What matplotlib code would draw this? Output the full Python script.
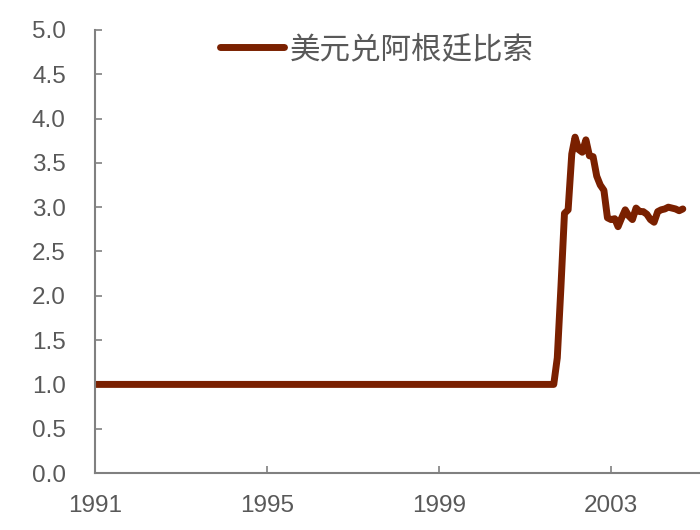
import numpy as np
import pandas as pd
import matplotlib
matplotlib.use("Agg")
import matplotlib.pyplot as plt

plt.rcParams['font.family'] = ['Liberation Sans', 'Noto Sans CJK SC', 'DejaVu Sans']

# monthly USD/ARS rate, pegged at 1.0 until late 2001
peg = [1.0] * 129
after = [1.3, 2.1, 2.93, 2.97, 3.6, 3.79, 3.65, 3.62, 3.76, 3.58, 3.57, 3.35,
         3.25, 3.19, 2.88, 2.86, 2.87, 2.78, 2.88, 2.97, 2.9, 2.86, 2.99, 2.95,
         2.95, 2.92, 2.86, 2.83, 2.95, 2.97, 2.98, 3.0, 2.99, 2.98, 2.96, 2.98]
rate = peg + after
dates = pd.date_range("1991-01-01", periods=len(rate), freq="MS")

series_name = "美元兑阿根廷比索"
year_ticks = [1991, 1995, 1999, 2003]
y_ticks = np.arange(0, 5.01, 0.5)

line_color = "#7A2000"
grey = "#808080"
text_color = "#595959"

fig = plt.figure(figsize=(7, 5.3), dpi=100)
ax = fig.add_axes([0.1357, 0.1075, 0.8643, 0.836])

ax.plot(dates, rate, color=line_color, lw=5, solid_joinstyle="round",
        solid_capstyle="round", label=series_name)

ax.set_ylim(0, 5)
ax.set_xlim(pd.Timestamp("1991-01-01"), pd.Timestamp("2005-01-25"))
ax.set_yticks(y_ticks)
ax.set_yticklabels([f"{v:.1f}" for v in y_ticks])
ax.set_xticks([pd.Timestamp(f"{y}-01-01") for y in year_ticks])
ax.set_xticklabels([str(y) for y in year_ticks])

for s in ["top", "right"]:
    ax.spines[s].set_visible(False)
for s in ["left", "bottom"]:
    ax.spines[s].set_color(grey)
    ax.spines[s].set_linewidth(1.5)

ax.tick_params(axis="both", direction="in", length=5, width=1.2, color=grey,
               labelcolor=text_color, labelsize=17.5)
ax.tick_params(axis="y", pad=21)
ax.tick_params(axis="x", pad=16)

leg = ax.legend(loc="center", bbox_to_anchor=(0.466, 0.955), frameon=False,
                fontsize=22, handlelength=2.1, handletextpad=0.2)
for t in leg.get_texts():
    t.set_color(text_color)

fig.savefig("out.png", dpi=100)
